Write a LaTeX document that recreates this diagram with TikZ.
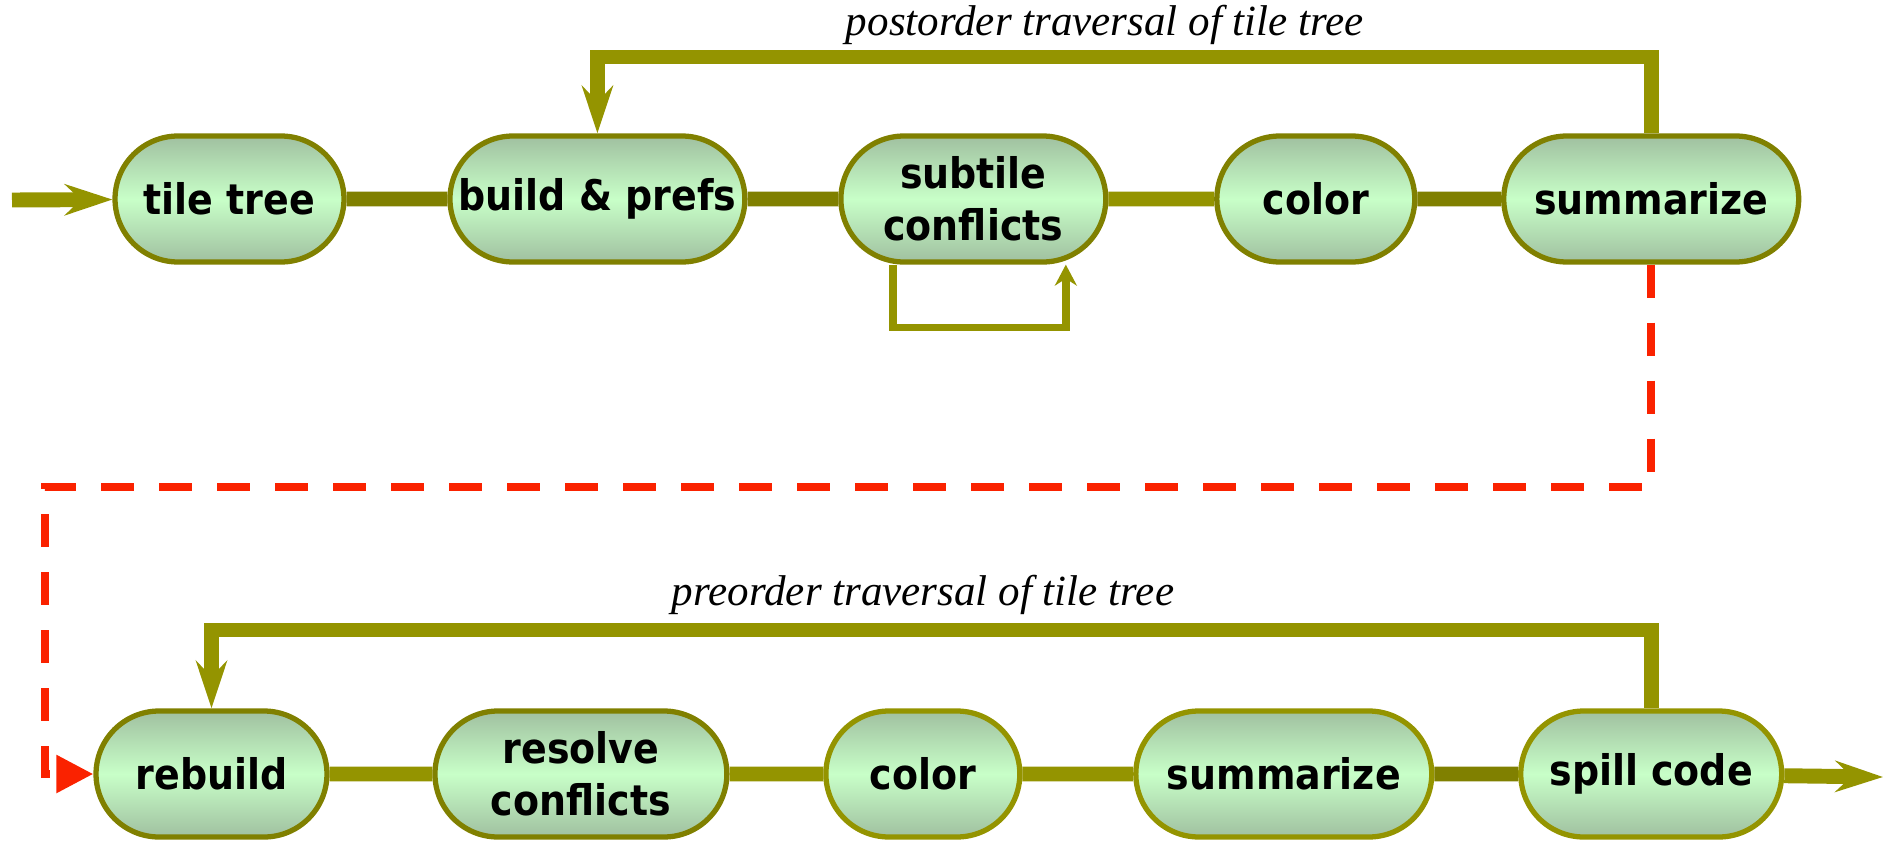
\documentclass[tikz,border=0pt]{standalone}
\usepackage{fontspec}
\setsansfont{DejaVu Sans Condensed}
\newfontfamily\travfont{Liberation Serif}
\usepackage{tikz}
\usetikzlibrary{positioning,arrows.meta,shapes.misc}

\definecolor{olivedk}{RGB}{128,128,0}
\definecolor{olivelt}{RGB}{148,148,0}
\definecolor{phaseedge}{RGB}{160,192,160}
\definecolor{phasemid}{RGB}{200,255,200}
\definecolor{passred}{RGB}{250,34,0}

\tikzset{
    phase/.style={rounded rectangle, draw=olivedk, line width=3pt,
        top color=phaseedge, bottom color=phaseedge, middle color=phasemid,
        minimum height=2.52cm, inner sep=2pt, align=center,
        font=\sffamily\bfseries\fontsize{24}{29.5}\selectfont},
    link/.style={line width=8.5pt, draw=olivedk},
    flow/.style={line width=8.5pt, draw=olivelt,
        -{Stealth[length=0.95cm,width=0.62cm,inset=0.32cm]}},
    selfloop/.style={line width=4.2pt, draw=olivelt,
        -{Stealth[length=0.42cm,width=0.44cm,inset=0.14cm]}},
    handoff/.style={line width=4.8pt, draw=passred, dash pattern=on 0.66cm off 0.5cm,
        -{Triangle[length=0.74cm,width=0.72cm]}},
    travlabel/.style={font=\travfont\itshape\fontsize{24.5}{29}\selectfont, anchor=base}
}

\begin{document}
\begin{tikzpicture}[x=0.02cm,y=-0.02cm,on grid]
    \useasboundingbox (0,0) rectangle (1893,842);

    % first pass
    \node[phase, minimum width=4.72cm] (tiletree) at (229.5,199) {tile tree};
    \node[phase, minimum width=6.04cm] (build) [right=7.36cm of tiletree] {build \& prefs};
    \node[phase, minimum width=5.44cm] (subtile) [right=7.52cm of build] {subtile\\conflicts};
    \node[phase, minimum width=4.1cm] (colorA) [right=6.85cm of subtile] {color};
    \node[phase, minimum width=6.04cm] (summA) [right=6.71cm of colorA] {summarize};

    % second pass
    \node[phase, minimum width=4.76cm] (rebuild) at (211.5,774) {rebuild};
    \node[phase, minimum width=5.98cm] (resolve) [right=7.39cm of rebuild] {resolve\\conflicts};
    \node[phase, minimum width=4.02cm, draw=olivelt] (colorB) [right=6.84cm of resolve] {color};
    \node[phase, minimum width=6.06cm, draw=olivelt] (summB) [right=7.22cm of colorB] {summarize};
    \node[phase, minimum width=5.36cm, draw=olivelt] (spill) [right=7.35cm of summB] {spill code};

    \coordinate (entry) at (12,200);
    \coordinate (exit) at (1883,777);
    \coordinate (postturn) at (1100,57);
    \coordinate (preturn) at (900,630);
    \coordinate (dropturn) at (45,487);

    \path[link]
        (tiletree) edge (build)
        (build) edge (subtile)
        (subtile) edge[olivelt] (colorA)
        (colorA) edge (summA)
        (rebuild) edge[olivelt] (resolve)
        (resolve) edge[olivelt] (colorB)
        (colorB) edge[olivelt] (summB)
        (summB) edge (spill);

    \draw[flow] (entry) -- (tiletree);
    \draw[flow] (spill) -- (exit);
    \draw[flow] (summA.north) |- (postturn) -| (build.north);
    \draw[flow] (spill.north) |- (preturn) -| (rebuild.north);
    \draw[selfloop] ([xshift=-1.61cm]subtile.south) -- ++(0,63) -| ([xshift=1.85cm]subtile.south);
    \draw[handoff] (summA.south) |- (dropturn) |- (rebuild.west);

    \node[travlabel] (postlbl) at (1105,35) {postorder traversal of tile tree};
    \node[travlabel] (prelbl) at (923,605) {preorder traversal of tile tree};
\end{tikzpicture}
\end{document}
